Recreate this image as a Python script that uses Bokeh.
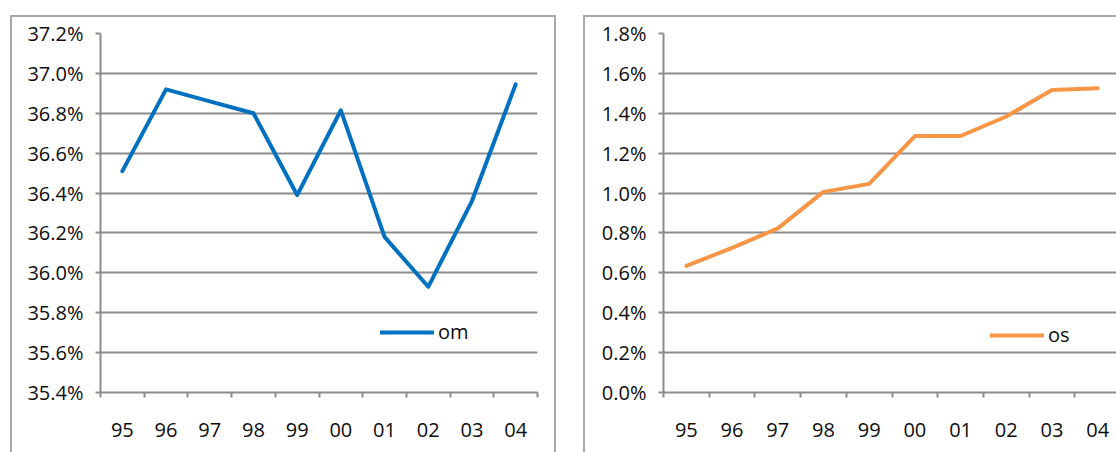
from bokeh.plotting import figure
from bokeh.layouts import row
from bokeh.models import (ColumnDataSource, FixedTicker, PrintfTickFormatter,
                          Range1d, Legend, LegendItem, InlineStyleSheet)
from bokeh.embed import file_html
from bokeh.resources import INLINE

# Fiscal years (two-digit labels)
years = ["95", "96", "97", "98", "99", "00", "01", "02", "03", "04"]

# Operating margin, % of sales
om = [36.51, 36.92, 36.86, 36.80, 36.39, 36.815, 36.18, 35.93, 36.36, 36.945]

# Other share, % of sales
os_ = [0.635, 0.725, 0.823, 1.006, 1.046, 1.286, 1.286, 1.384, 1.517, 1.525]

om_ticks = [35.4, 35.6, 35.8, 36.0, 36.2, 36.4, 36.6, 36.8, 37.0, 37.2]
os_ticks = [0.0, 0.2, 0.4, 0.6, 0.8, 1.0, 1.2, 1.4, 1.6, 1.8]

FONT = "Open Sans"
TXT = "#0d0d0d"
GRID = "#8c8c8c"
BOX = "#a9a9a9"
FS = "20px"

xc = [i + 0.5 for i in range(len(years))]


def panel_frame_css(left_px, width_px):
    # thin grey chart-area border drawn over the figure, open at the bottom
    return InlineStyleSheet(css=f"""
:host {{ position: relative; }}
:host::after {{
  content: "";
  position: absolute;
  left: {left_px}px; top: 15px;
  width: {width_px}px; height: 437px;
  box-sizing: border-box;
  border: 2px solid {BOX};
  border-bottom: none;
  pointer-events: none;
  z-index: 10;
}}
""")


def panel(values, color, label, yticks, y_end, width, border_l, border_r,
          frame_bottom_px, x_end, box_left, box_width, legend_loc):
    src = ColumnDataSource(dict(x=xc, y=values))
    p = figure(width=width, height=452, output_backend="svg",
               toolbar_location=None, tools="",
               x_range=Range1d(0, x_end),
               y_range=Range1d(yticks[0], y_end),
               min_border_left=border_l, min_border_right=border_r,
               min_border_top=33, min_border_bottom=frame_bottom_px)
    p.outline_line_color = None
    p.background_fill_color = "white"
    p.border_fill_color = "white"
    p.stylesheets = [panel_frame_css(box_left, box_width)]

    r = p.line("x", "y", source=src, line_color=color, line_width=4,
               line_join="round", line_cap="round")

    # x axis: boundary ticks as minor ticks, labels at category centres
    xa = p.xaxis[0]
    xa.ticker = FixedTicker(ticks=xc, minor_ticks=list(range(len(years) + 1)))
    xa.major_label_overrides = {c: y for c, y in zip(xc, years)}
    xa.major_tick_out = 0
    xa.major_tick_in = 0
    xa.minor_tick_out = 5
    xa.minor_tick_in = 0
    xa.minor_tick_line_color = GRID
    xa.minor_tick_line_width = 2
    xa.axis_line_color = GRID
    xa.axis_line_width = 2
    xa.major_label_standoff = 25
    xa.major_label_text_font = FONT
    xa.major_label_text_font_size = FS
    xa.major_label_text_color = TXT

    ya = p.yaxis[0]
    ya.ticker = FixedTicker(ticks=yticks)
    ya.formatter = PrintfTickFormatter(format="%.1f%%")
    ya.major_tick_out = 5
    ya.major_tick_in = 0
    ya.minor_tick_line_color = None
    ya.major_tick_line_color = GRID
    ya.major_tick_line_width = 2
    ya.axis_line_color = GRID
    ya.axis_line_width = 2
    ya.major_label_standoff = 12
    ya.major_label_text_font = FONT
    ya.major_label_text_font_size = FS
    ya.major_label_text_color = TXT

    p.xgrid.grid_line_color = None
    p.ygrid.ticker = FixedTicker(ticks=yticks)
    p.ygrid.grid_line_color = GRID
    p.ygrid.grid_line_width = 2

    leg = Legend(items=[LegendItem(label=label, renderers=[r])],
                 location=legend_loc, glyph_width=54, glyph_height=20,
                 label_standoff=4, padding=0, margin=0, spacing=0,
                 border_line_color=None, background_fill_alpha=0,
                 label_text_font=FONT, label_text_font_size=FS,
                 label_text_color=TXT)
    p.add_layout(leg)
    return p


left = panel(om, "#0070C0", "om", om_ticks, 37.2, 569, 100, 32, 60,
             10, 10, 546, (280, 47))
right = panel(os_, "#F79646", "os", os_ticks, 1.8, 547, 94, 0, 58,
              9.912, 14, 560, (327, 44))

layout = row(left, right)
open("out.html", "w").write(file_html(layout, INLINE))
